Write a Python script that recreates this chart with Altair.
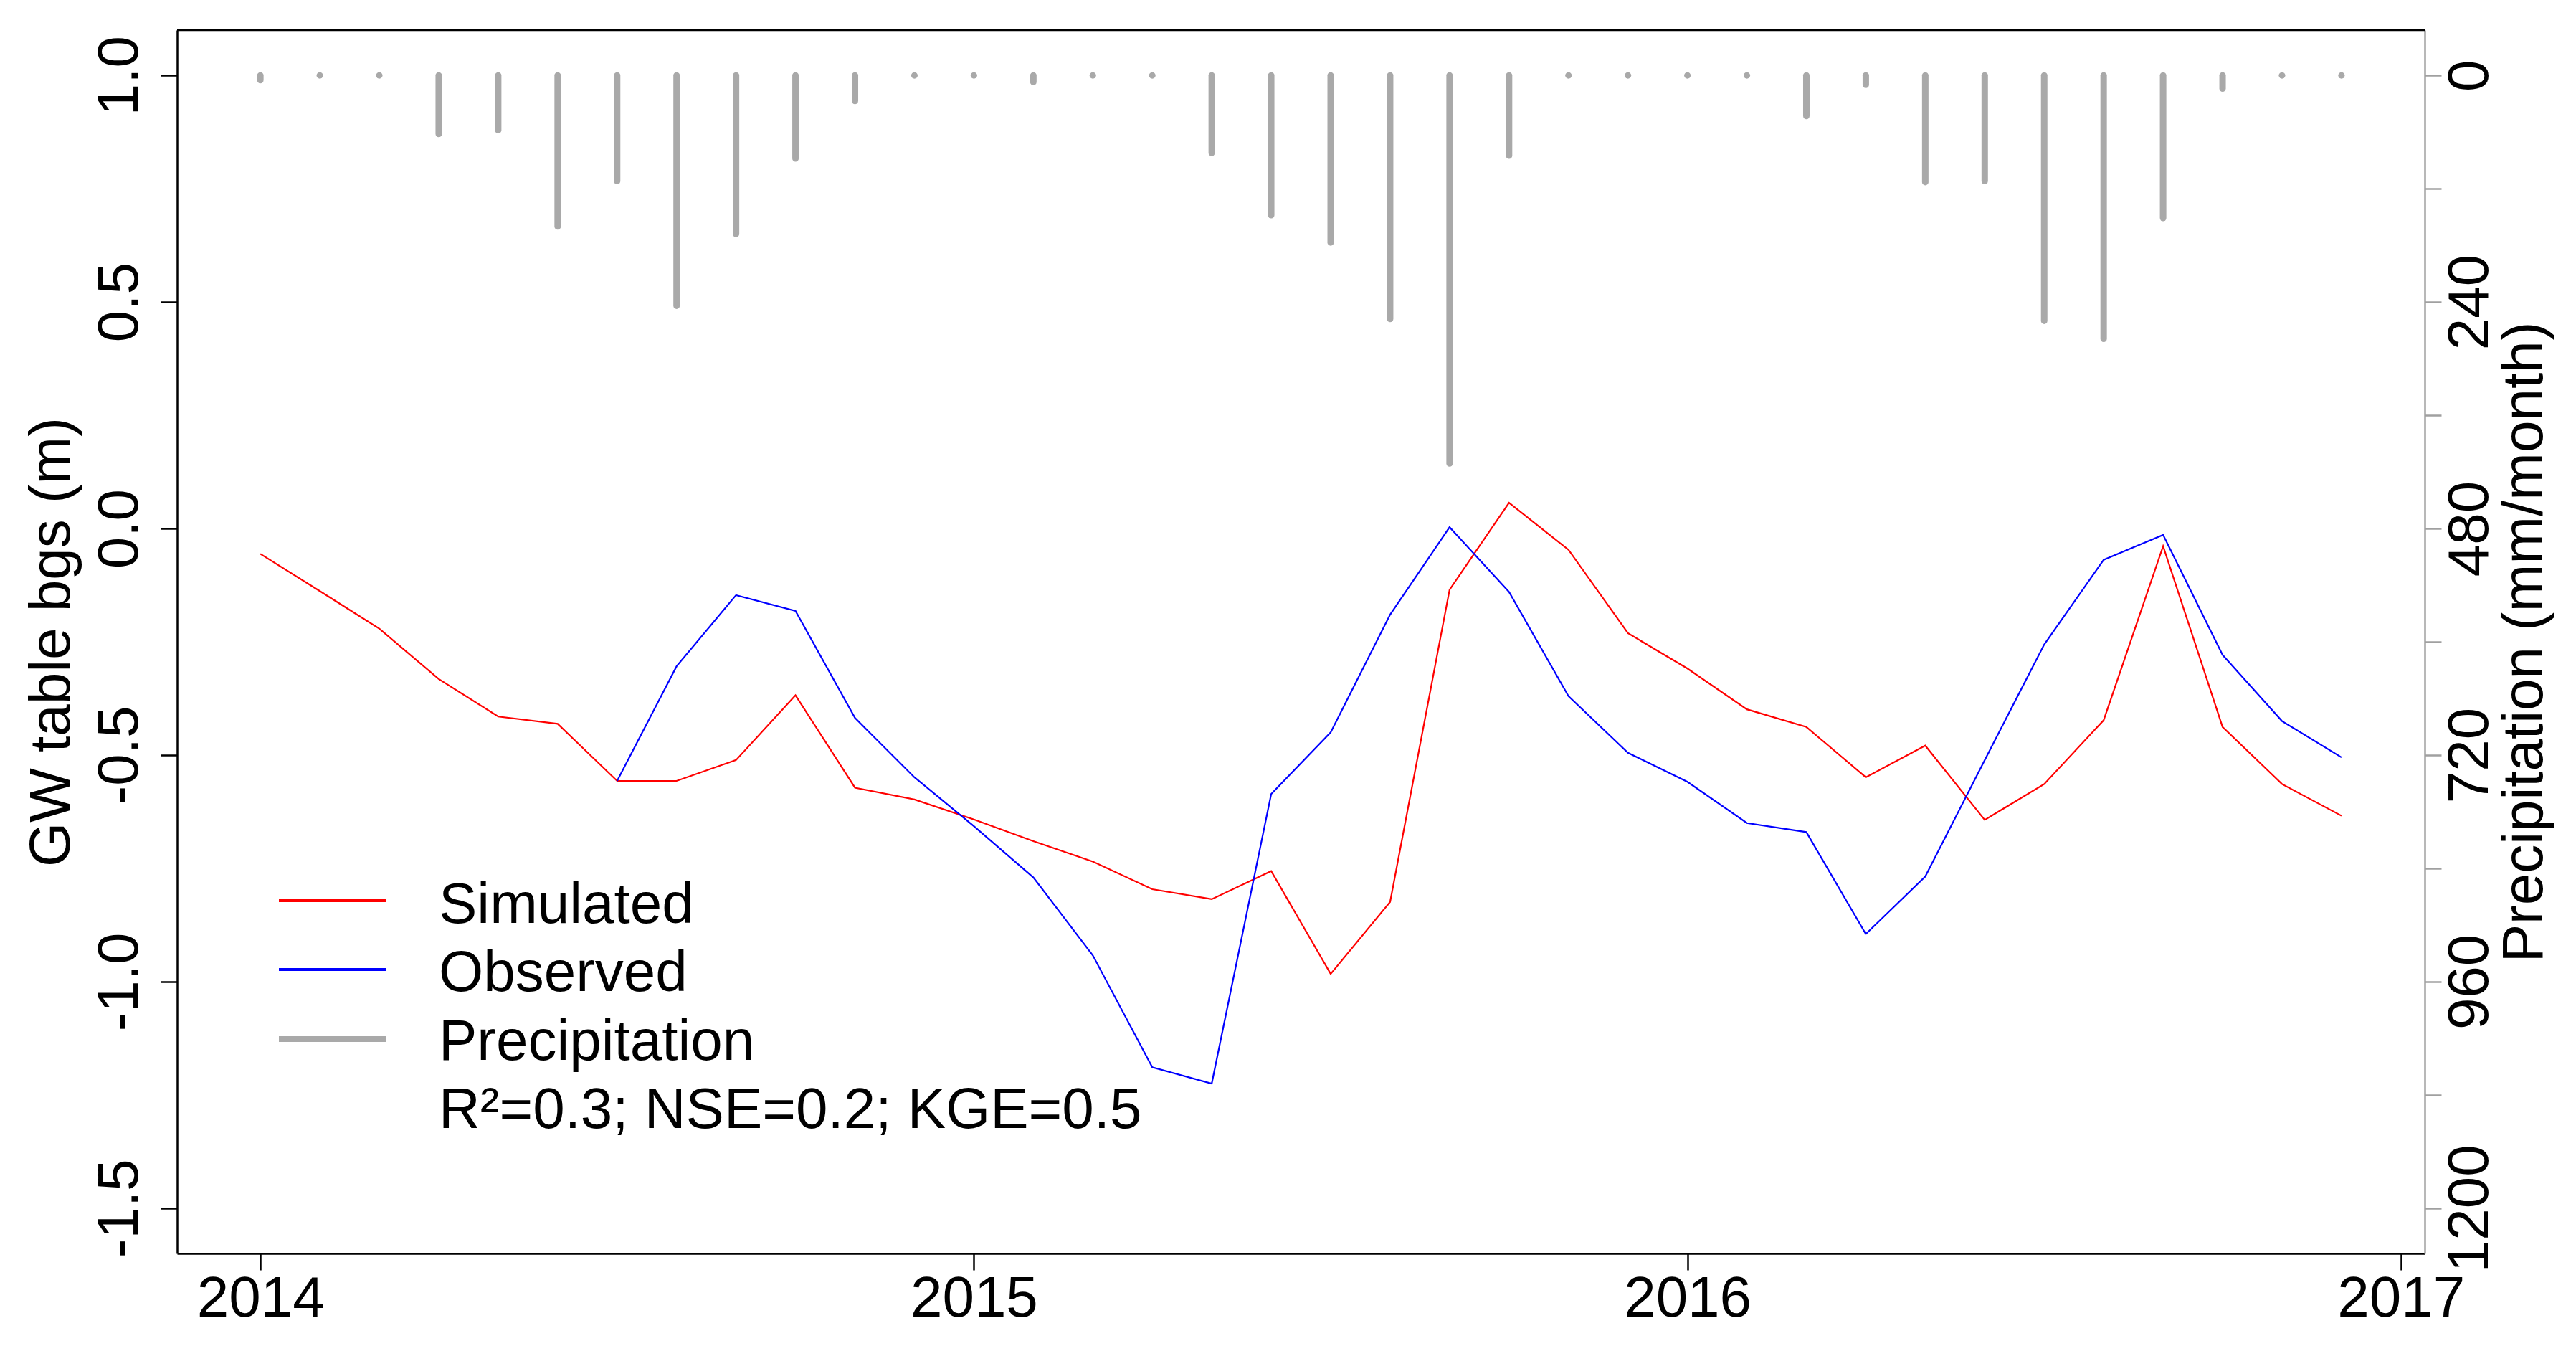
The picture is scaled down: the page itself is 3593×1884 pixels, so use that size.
import altair as alt
import pandas as pd

# ---------------- data ----------------
months_index = list(range(36))  # Jan 2014 .. Dec 2016
simulated = [-0.056, -0.138, -0.221, -0.332, -0.415, -0.431, -0.557, -0.557, -0.511, -0.368,
             -0.572, -0.598, -0.642, -0.690, -0.735, -0.796, -0.818, -0.756, -0.983, -0.824,
             -0.135, 0.057, -0.047, -0.231, -0.309, -0.399, -0.438, -0.549, -0.479, -0.643,
             -0.564, -0.423, -0.039, -0.438, -0.564, -0.634]
observed_start = 6  # observations begin Jul 2014
observed = [-0.557, -0.304, -0.147, -0.182, -0.418, -0.549, -0.657, -0.770, -0.942, -1.189,
            -1.225, -0.586, -0.450, -0.190, 0.003, -0.140, -0.370, -0.495, -0.559, -0.650,
            -0.670, -0.895, -0.768, -0.511, -0.256, -0.069, -0.014, -0.279, -0.425, -0.505]
precipitation = [5, 0, 0, 62, 58, 160, 112, 244, 168, 88, 27, 0,
                 0, 7, 0, 0, 82, 148, 177, 258, 411, 85, 0, 0,
                 0, 0, 43, 10, 113, 112, 260, 279, 151, 14, 0, 0]
year_ticks = [2014, 2015, 2016, 2017]
gw_ticks = [-1.5, -1.0, -0.5, 0.0, 0.5, 1.0]
precip_ticks = list(range(0, 1201, 120))
legend_labels = ["Simulated", "Observed", "Precipitation"]
stats_text = "R\u00b2=0.3; NSE=0.2; KGE=0.5"

# ---------------- layout ----------------
W, H = 3135, 1706
FONT = "Liberation Sans"
FS = 80
RED, BLUE, GREY = "#FF0000", "#0000FF", "#A9A9A9"

t = [2014 + i / 12 for i in months_index]
df_sim = pd.DataFrame({"t": t, "v": simulated})
df_obs = pd.DataFrame({"t": t[observed_start:], "v": observed})
df_p = pd.DataFrame({"t": t, "p": precipitation, "p0": [0] * len(t)})
one = pd.DataFrame({"a": [0]})

x_enc = alt.X(
    "t:Q",
    scale=alt.Scale(domain=[2013.8833, 2017.0333], nice=False, zero=False),
    axis=alt.Axis(values=year_ticks, format="d", title=None, orient="bottom",
                  tickSize=23, labelPadding=64, labelBaseline="alphabetic",
                  labelAlign="center", labelFlush=False, labelOverlap=False),
)

y_gw = alt.Y(
    "v:Q",
    scale=alt.Scale(domain=[-1.6, 1.1], nice=False, zero=False),
    axis=alt.Axis(values=gw_ticks, orient="left", title="GW table bgs (m)",
                  labelAngle=270, labelAlign="center", labelBaseline="alphabetic",
                  tickSize=23, labelPadding=33, labelOverlap=False, labelFlush=False,
                  labelExpr="datum.value < 0 ? '-' + format(-datum.value, '.1f') : format(datum.value, '.1f')",
                  titleAngle=270, titleX=-151, titleY=H / 2, titleAlign="center",
                  titleBaseline="alphabetic"),
)

precip_layer = alt.Chart(df_p).mark_rule(color=GREY, strokeWidth=9, strokeCap="round").encode(
    x=x_enc,
    y=alt.Y("p:Q",
            scale=alt.Scale(domain=[-48, 1248], reverse=True, nice=False, zero=False),
            axis=alt.Axis(values=precip_ticks, orient="right",
                          title="Precipitation (mm/month)",
                          labelAngle=270, labelAlign="center", labelBaseline="alphabetic",
                          tickSize=23, labelPadding=64, labelOverlap=False, labelFlush=False,
                          labelExpr="datum.value % 240 === 0 ? format(datum.value, 'd') : ''",
                          domainColor="#A0A0A0", tickColor="#A0A0A0",
                          titleAngle=270, titleX=163, titleY=H / 2, titleAlign="center",
                          titleBaseline="alphabetic")),
    y2="p0:Q",
)

sim_line = alt.Chart(df_sim).mark_line(color=RED, strokeWidth=2.2).encode(x=x_enc, y=y_gw)
obs_line = alt.Chart(df_obs).mark_line(color=BLUE, strokeWidth=2.2).encode(x=x_enc, y=y_gw)

top_frame = alt.Chart(one).mark_rule(color="black", strokeWidth=2.5).encode(
    x=alt.value(0), x2=alt.value(W), y=alt.value(0))

# ---------------- legend (drawn like R's legend box) ----------------
leg_x0, leg_x1, leg_tx = 142, 292, 365
leg_line_y = [1214, 1310, 1407]
leg_text_y = [1244.5, 1340, 1436, 1531]
leg_colors = [RED, BLUE, GREY]
leg_widths = [4, 4, 8]

legend_layers = []
for lab, ly, ty, col, w in zip(legend_labels, leg_line_y, leg_text_y, leg_colors, leg_widths):
    legend_layers.append(
        alt.Chart(one).mark_rule(color=col, strokeWidth=w, strokeCap="butt").encode(
            x=alt.value(leg_x0), x2=alt.value(leg_x1), y=alt.value(ly)))
    legend_layers.append(
        alt.Chart(one).mark_text(align="left", baseline="alphabetic", font=FONT,
                                 fontSize=FS, color="black").encode(
            x=alt.value(leg_tx), y=alt.value(ty), text=alt.value(lab)))
legend_layers.append(
    alt.Chart(one).mark_text(align="left", baseline="alphabetic", font=FONT,
                             fontSize=FS, color="black").encode(
        x=alt.value(leg_tx), y=alt.value(leg_text_y[3]), text=alt.value(stats_text)))

gw_group = alt.layer(top_frame, sim_line, obs_line, *legend_layers)

chart = (
    alt.layer(precip_layer, gw_group)
    .resolve_scale(y="independent")
    .properties(
        width=W, height=H,
        autosize=alt.AutoSizeParams(type="none"),
        padding={"left": 239, "top": 34, "right": 203, "bottom": 120},
    )
    .configure_axis(
        labelFont=FONT, titleFont=FONT, labelFontSize=FS, titleFontSize=FS,
        labelColor="black", titleColor="black", titleFontWeight="normal",
        grid=False, domainColor="black", tickColor="black",
        domainWidth=2.5, tickWidth=2.5,
    )
    .configure_view(stroke=None)
)

chart.save("out.html", embed_options={"renderer": "svg", "actions": False})
